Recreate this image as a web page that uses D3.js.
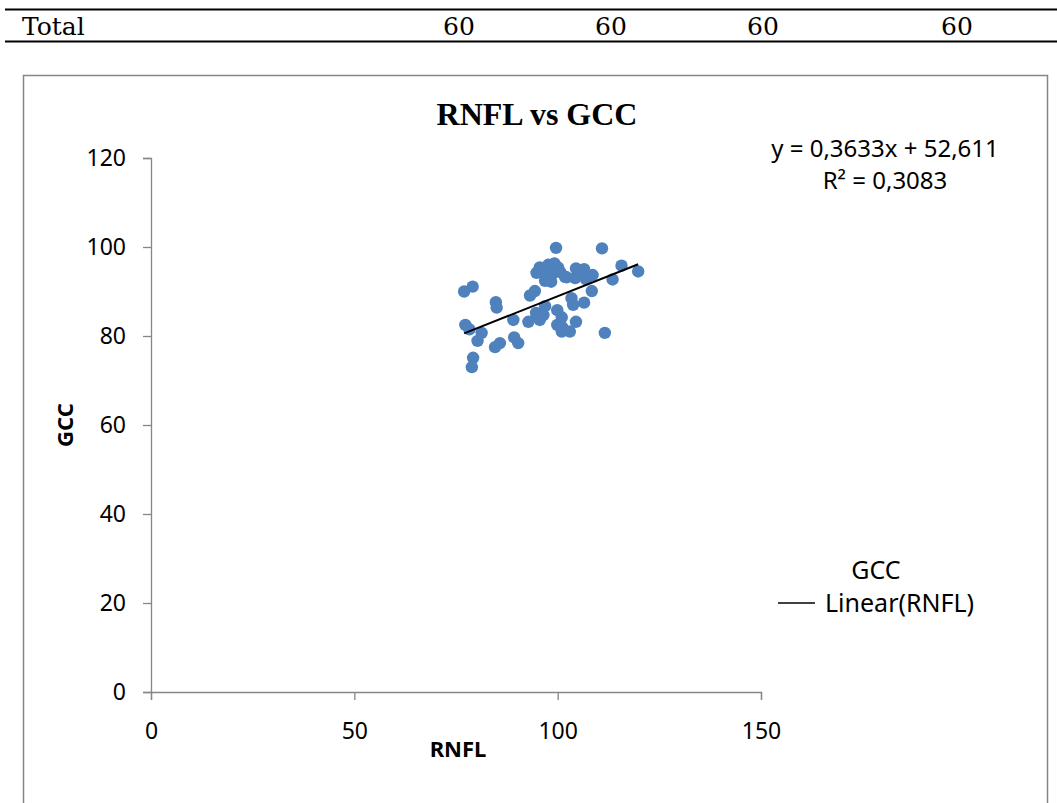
<!DOCTYPE html>
<html>
<head>
<meta charset="utf-8">
<script src="https://cdn.jsdelivr.net/npm/d3@7"></script>
<style>
  body { margin: 0; background: #fff; }
  svg { display: block; }
</style>
</head>
<body>
<div id="chart"></div>
<script>
// Data
var rnfl = [77.0, 79.1, 84.8, 85.0, 77.3, 78.3, 81.3, 80.3, 79.2, 78.9,
            84.6, 85.8, 89.1, 89.3, 90.3, 92.8, 93.2, 94.4, 94.8, 95.6,
            94.7, 95.6, 96.9, 96.9, 98.4, 97.7, 99.2, 100.1, 99.6, 101.8,
            99.9, 101.0, 99.9, 101.0, 103.0, 103.4, 103.8, 104.5, 106.5, 104.5,
            104.3, 106.5, 107.0, 108.6, 108.4, 110.9, 111.6, 113.5, 115.7, 119.8,
            96.1, 97.3, 98.9, 102.2, 100.6, 105.5, 98.1, 96.5, 94.8, 101.1];
var gcc = [90.0, 91.1, 87.6, 86.4, 82.5, 81.5, 80.7, 78.9, 75.1, 73.0,
           77.5, 78.4, 83.6, 79.7, 78.4, 83.2, 89.1, 90.1, 94.2, 95.4,
           85.2, 83.6, 86.7, 92.4, 92.2, 96.0, 96.3, 95.4, 99.8, 93.3,
           85.8, 84.2, 82.5, 81.0, 81.0, 88.5, 87.0, 83.2, 87.5, 95.2,
           93.0, 95.0, 92.7, 93.7, 90.1, 99.7, 80.7, 92.7, 95.8, 94.5,
           94.4, 93.7, 94.1, 93.2, 94.4, 94.1, 92.4, 84.7, 84.3, 82.0];

var slope = 0.3633, intercept = 52.611;
var xTicks = [0, 50, 100, 150];
var yTicks = [0, 20, 40, 60, 80, 100, 120];
var tableCells = ["60", "60", "60", "60"];

var W = 1057, H = 803;
var svg = d3.select("#chart").append("svg")
  .attr("width", W)
  .attr("height", H);

// Table row above the chart
svg.append("line").attr("x1", 5).attr("x2", 1057).attr("y1", 9.5).attr("y2", 9.5)
  .attr("stroke", "#000").attr("stroke-width", 2);
svg.append("line").attr("x1", 5).attr("x2", 1057).attr("y1", 41.5).attr("y2", 41.5)
  .attr("stroke", "#000").attr("stroke-width", 2);
svg.append("text").attr("x", 22).attr("y", 35)
  .style("font-family", "DejaVu Serif").style("font-size", "25px")
  .text("Total");
var cellX = [459, 611, 763, 957];
svg.selectAll(".cell").data(tableCells).enter().append("text")
  .attr("class", "cell")
  .attr("x", function(d, i) { return cellX[i]; })
  .attr("y", 35)
  .attr("text-anchor", "middle")
  .style("font-family", "DejaVu Serif").style("font-size", "25px")
  .text(function(d) { return d; });

// Chart frame
svg.append("rect").attr("x", 23.5).attr("y", 75.5).attr("width", 1024).attr("height", 760)
  .attr("fill", "none").attr("stroke", "#868686").attr("stroke-width", 1.5);

// Scales
var x = d3.scaleLinear().domain([0, 150]).range([151, 761]);
var y = d3.scaleLinear().domain([0, 120]).range([692, 158]);

var font = "'Noto Sans', sans-serif";

// Y axis
var yAxis = svg.append("g")
  .attr("transform", "translate(" + x(0) + ",0)")
  .call(d3.axisLeft(y).tickValues(yTicks).tickSize(8).tickPadding(17));
// X axis
var xAxis = svg.append("g")
  .attr("transform", "translate(0," + y(0) + ")")
  .call(d3.axisBottom(x).tickValues(xTicks).tickSize(8).tickPadding(23));

[xAxis, yAxis].forEach(function(g) {
  g.select(".domain").attr("stroke", "#868686").attr("stroke-width", 1.3);
  g.selectAll(".tick line").attr("stroke", "#868686").attr("stroke-width", 1.3);
  g.selectAll(".tick text").attr("fill", "#000")
    .style("font-family", font).style("font-size", "23px");
});

// Points
svg.selectAll(".dot").data(rnfl).enter().append("circle")
  .attr("class", "dot")
  .attr("cx", function(d) { return x(d); })
  .attr("cy", function(d, i) { return y(gcc[i]); })
  .attr("r", 6.2)
  .attr("fill", "#4F81BD");

// Linear trendline
var xr = d3.extent(rnfl);
svg.append("line")
  .attr("x1", x(xr[0])).attr("y1", y(slope * xr[0] + intercept))
  .attr("x2", x(xr[1])).attr("y2", y(slope * xr[1] + intercept))
  .attr("stroke", "#000").attr("stroke-width", 2);

// Title
svg.append("text").attr("x", 537).attr("y", 125).attr("text-anchor", "middle")
  .style("font-family", "'Liberation Serif', serif").style("font-size", "32px")
  .style("font-weight", "bold")
  .text("RNFL vs GCC");

// Axis titles
svg.append("text").attr("x", 458).attr("y", 757).attr("text-anchor", "middle")
  .style("font-family", font).style("font-size", "22px").style("font-weight", "bold")
  .text("RNFL");
svg.append("text").attr("transform", "translate(73,425) rotate(-90)")
  .attr("text-anchor", "middle")
  .style("font-family", font).style("font-size", "22px").style("font-weight", "bold")
  .text("GCC");

// Trendline equation
svg.append("text").attr("x", 885).attr("y", 157).attr("text-anchor", "middle")
  .style("font-family", font).style("font-size", "24px")
  .text("y = 0,3633x + 52,611");
svg.append("text").attr("x", 885).attr("y", 189).attr("text-anchor", "middle")
  .style("font-family", font).style("font-size", "24px")
  .text("R² = 0,3083");

// Legend
svg.append("text").attr("x", 876).attr("y", 579).attr("text-anchor", "middle")
  .style("font-family", font).style("font-size", "25px")
  .text("GCC");
svg.append("line").attr("x1", 778).attr("x2", 815).attr("y1", 603).attr("y2", 603)
  .attr("stroke", "#000").attr("stroke-width", 1.5);
svg.append("text").attr("x", 825).attr("y", 612)
  .style("font-family", font).style("font-size", "25px")
  .text("Linear(RNFL)");
</script>
</body>
</html>
